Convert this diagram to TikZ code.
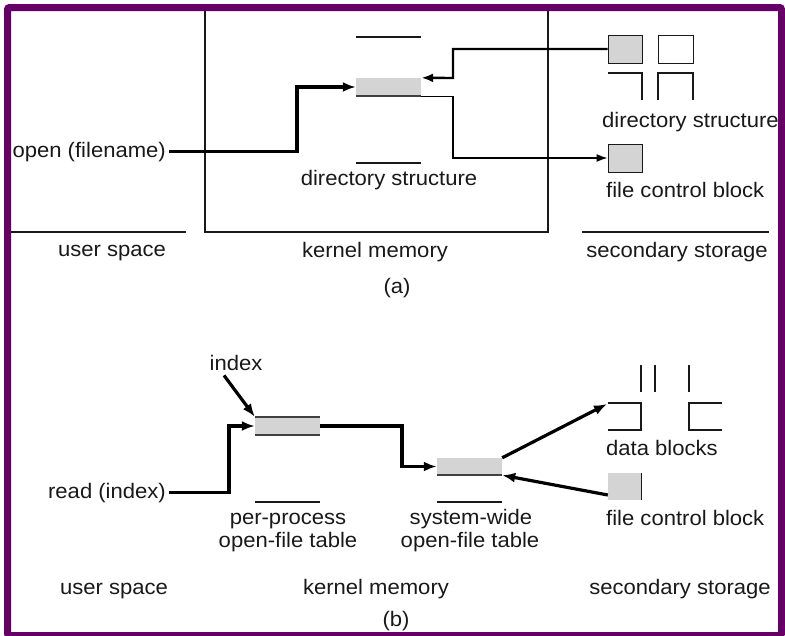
\documentclass[tikz,border=0pt]{standalone}
\usepackage{fontspec}
\setmainfont{Liberation Sans}[FakeStretch=1.05]
\usetikzlibrary{arrows.meta,calc}
\definecolor{framec}{RGB}{102,0,102}
\definecolor{blk}{RGB}{212,212,212}
\definecolor{ink}{RGB}{25,25,25}
\tikzset{
  rule/.style={line width=1.2pt, draw=ink},
  txt/.style={font=\fontsize{21}{23}\selectfont, inner sep=0pt, text=ink},
  grayblk/.style={fill=blk, draw=none, minimum width=65pt, minimum height=18pt, inner sep=0pt},
  sq/.style={draw=ink, line width=1pt, minimum width=34pt, minimum height=28pt, inner sep=0pt},
  edgeline/.style={line width=1.6pt, draw=black!75},
  bigarrow/.style={line width=3.2pt, draw=black, -{Latex[length=13pt,width=10pt]}},
  midarrow/.style={line width=2.4pt, draw=black, -{Latex[length=12pt,width=9pt]}},
  thinarrow/.style={line width=1.3pt, draw=black, -{Latex[length=11pt,width=8pt]}}
}
\begin{document}
\begin{tikzpicture}[x=1pt,y=-1pt]
\useasboundingbox (0,0) rectangle (785,635);
\fill[white] (0,0) rectangle (785,635);

% ---------- (a) ----------
\draw[rule] (205,6) rectangle (548,232);
\draw[rule] (11,232) -- (186,232);
\draw[rule] (582,232) -- (769,232);

\node[grayblk] (dirk) at (388.5,87) {};
\draw[edgeline] (dirk.south west) -- (dirk.south east);
\draw[rule] (356,37) -- (421,37);
\draw[rule] (356,163) -- (421,163);
\node[txt, anchor=base] (kdirtxt) at (389,185) {directory structure};

\node[txt, anchor=base east, inner xsep=3pt] (open) at (169,157) {open (filename)};

\node[sq, fill=blk] (sdir) at (625,49) {};
\node[sq, minimum width=35pt] (sdir2) at (675.5,49) {};
\draw[rule] (608,73) -- (642,73) -- (642,100);
\draw[rule] (658,100) -- (658,73) -- (693,73) -- (693,100);
\node[txt, anchor=base west] (sdirtxt) at (602,127) {directory structure};
\node[sq, fill=blk] (sfcb) at (625,158) {};
\node[txt, anchor=base west] (sfcbtxt) at (606,197) {file control block};

\coordinate (oa) at (297,87);
\coordinate (kb1) at (453,78);
\coordinate (kb2) at (453,158);
\draw[bigarrow] (open.east) -| (oa) -- (dirk.west);
\draw[midarrow] (sdir.west) -| (kb1) -- (dirk.north east);
\draw[thinarrow] (dirk.south east) -| (kb2) -- (sfcb.west);

\node[txt, anchor=base] (us1) at (112,256) {user space};
\node[txt, anchor=base] (km1) at (375,257) {kernel memory};
\node[txt, anchor=base] (ss1) at (677,257) {secondary storage};
\node[txt, anchor=base] (lbla) at (397,293) {(a)};

% ---------- (b) ----------
\node[txt, anchor=base] (idx) at (236,370) {index};
\node[grayblk] (pp) at (287.5,426) {};
\draw[edgeline] (pp.north west) -- (pp.north east);
\draw[edgeline] (pp.south west) -- (pp.south east);
\draw[rule] (255,502) -- (320,502);
\node[txt, anchor=base] (pptxt1) at (288,524) {per-process};
\node[txt, anchor=base] (pptxt2) at (288,547) {open-file table};

\node[txt, anchor=base east, inner xsep=3pt] (read) at (169,498) {read (index)};

\node[grayblk, minimum height=17pt] (sw) at (469.5,466.5) {};
\draw[edgeline] (sw.south west) -- (sw.south east);
\draw[rule] (437,502) -- (502,502);
\node[txt, anchor=base] (swtxt1) at (471,524) {system-wide};
\node[txt, anchor=base] (swtxt2) at (470,547) {open-file table};

\draw[rule] (641,365) -- (641,392);
\draw[rule] (655,365) -- (655,392);
\draw[rule] (689,365) -- (689,392);
\coordinate (db) at (607,404);
\draw[rule] (608,403) -- (641,403) -- (641,430) -- (608,430);
\draw[rule] (722,403) -- (689,403) -- (689,430) -- (722,430);
\node[txt, anchor=base west] (dbtxt) at (606,455) {data blocks};

\node[fill=blk, minimum width=33pt, minimum height=27pt, inner sep=0pt] (bfcb) at (624.5,486.5) {};
\draw[line width=1.4pt, draw=ink] (bfcb.north east) -- (bfcb.south east);
\node[txt, anchor=base west] (bfcbtxt) at (606,525) {file control block};

\coordinate (rb) at (229,426);
\coordinate (pb) at (402,466.5);
\draw[bigarrow, line width=3.6pt] (read.east) -| (rb) -- (pp.west);
\draw[bigarrow] ([xshift=-12pt,yshift=-5pt]idx.south) -- (pp.north west);
\draw[bigarrow, line width=3.6pt] (pp.east) -| (pb) -- (sw.west);
\draw[bigarrow] (sw.north east) -- (db);
\draw[bigarrow] ([yshift=-8.5pt]bfcb.west) -- (sw.south east);

\node[txt, anchor=base] (us2) at (114,594) {user space};
\node[txt, anchor=base] (km2) at (376,594) {kernel memory};
\node[txt, anchor=base] (ss2) at (680,594) {secondary storage};
\node[txt, anchor=base] (lblb) at (396,626) {(b)};

% ---------- frame ----------
\draw[framec, line width=7pt, rounded corners=2pt] (7.5,7.5) rectangle (781.5,635.5);
\end{tikzpicture}
\end{document}
